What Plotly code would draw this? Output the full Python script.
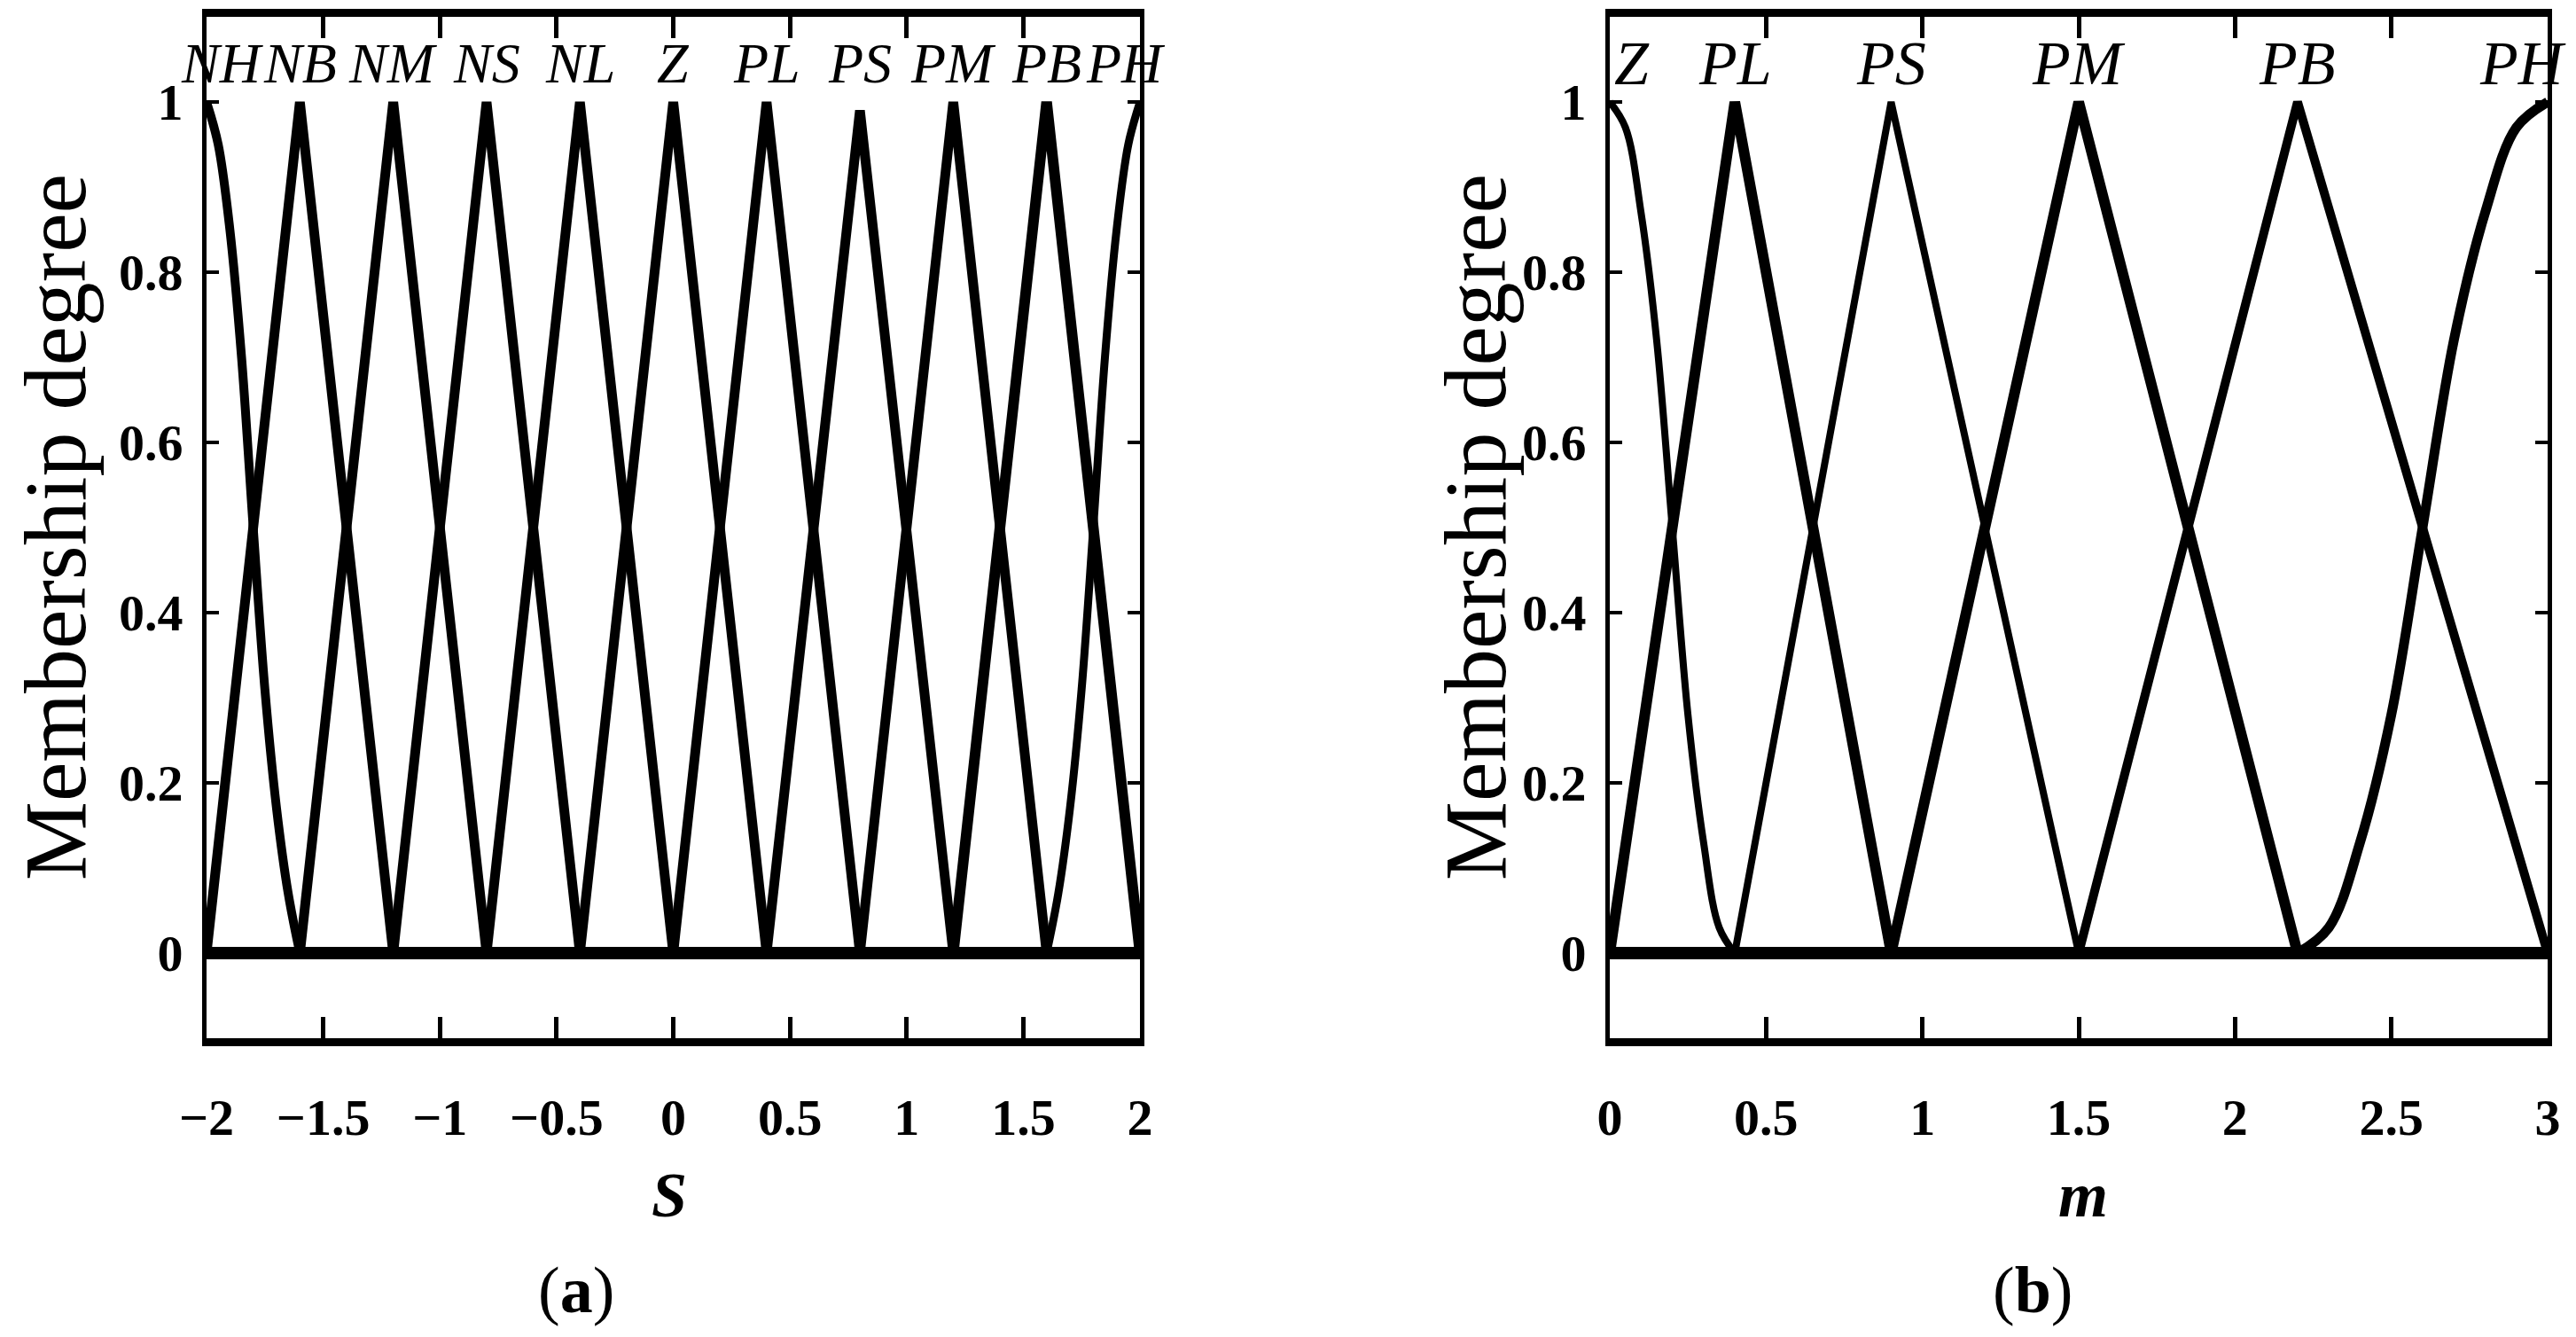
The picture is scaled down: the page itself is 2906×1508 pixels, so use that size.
import plotly.graph_objects as go

# ---- data: input S (panel a) ----
s_range = [-2, 2]
s_labels = ["NH", "NB", "NM", "NS", "NL", "Z", "PL", "PS", "PM", "PB", "PH"]
s_label_x = [-1.93, -1.6, -1.2, -0.8, -0.4, 0.0, 0.4, 0.8, 1.2, 1.6, 1.94]
# triangular sets NB..PB: left foot, peak, right foot, peak height
s_tri_a = [-2.0, -1.6, -1.2, -0.8, -0.4, 0.0, 0.4, 0.8, 1.2]
s_tri_b = [-1.6, -1.2, -0.8, -0.4, 0.0, 0.4, 0.8, 1.2, 1.6]
s_tri_c = [-1.2, -0.8, -0.4, 0.0, 0.4, 0.8, 1.2, 1.6, 2.0]
s_tri_h = [1, 1, 1, 1, 1, 1, 0.99, 1, 1]
# curved end sets
nh_x = [-2.0, -1.95, -1.9, -1.85, -1.8, -1.75, -1.7, -1.65, -1.6]
nh_y = [1.0, 0.95, 0.85, 0.7, 0.5, 0.31, 0.17, 0.07, 0.0]
ph_x = [1.6, 1.65, 1.7, 1.75, 1.8, 1.85, 1.9, 1.95, 2.0]
ph_y = [0.0, 0.07, 0.17, 0.31, 0.5, 0.7, 0.85, 0.95, 1.0]

# ---- data: input m (panel b) ----
m_range = [0, 3]
m_labels = ["Z", "PL", "PS", "PM", "PB", "PH"]
m_label_x = [0.07, 0.4, 0.9, 1.5, 2.2, 2.92]
m_tri_a = [0.0, 0.4, 0.9, 1.5]
m_tri_b = [0.4, 0.9, 1.5, 2.2]
m_tri_c = [0.9, 1.5, 2.2, 3.0]
m_tri_h = [1, 1, 1, 1]
z_x = [0.0, 0.05, 0.1, 0.15, 0.2, 0.25, 0.3, 0.35, 0.4]
z_y = [1.0, 0.97, 0.87, 0.72, 0.5, 0.28, 0.13, 0.03, 0.0]
mph_x = [2.2, 2.3, 2.4, 2.5, 2.6, 2.7, 2.8, 2.9, 3.0]
mph_y = [0.0, 0.03, 0.13, 0.28, 0.5, 0.72, 0.87, 0.97, 1.0]

y_ticks = [0, 0.2, 0.4, 0.6, 0.8, 1]

# line widths (style)
s_tri_w = [11, 11, 11, 11, 11, 11, 11, 11, 12]
m_tri_w = [12, 8, 12, 10]

W, H, OFF = 2890, 1490, 8


def fx(px):
    return (px - OFF) / W


def fy(py):
    return 1 - (py - OFF) / H


fig = go.Figure()


def add_line(x, y, xa, width, shape="linear"):
    fig.add_trace(go.Scatter(x=x, y=y, mode="lines", xaxis=xa, yaxis="y" if xa == "x" else "y2",
                             line=dict(color="black", width=width, shape=shape),
                             showlegend=False, hoverinfo="skip"))


# panel a
add_line(nh_x, nh_y, "x", 10, "spline")
add_line([nh_x[-1], s_range[1]], [0, 0], "x", 10)
for a, b, c, h, w in zip(s_tri_a, s_tri_b, s_tri_c, s_tri_h, s_tri_w):
    add_line([s_range[0], a, b, c, s_range[1]], [0, 0, h, 0, 0], "x", w)
add_line(ph_x, ph_y, "x", 9, "spline")

# panel b
add_line(z_x, z_y, "x2", 8, "spline")
add_line([z_x[-1], m_range[1]], [0, 0], "x2", 8)
for a, b, c, h, w in zip(m_tri_a, m_tri_b, m_tri_c, m_tri_h, m_tri_w):
    add_line([m_range[0], a, b, c, m_range[1]], [0, 0, h, 0, 0], "x2", w)
add_line(mph_x, mph_y, "x2", 11, "spline")

tick_font = dict(family="Liberation Serif", size=58, color="black", weight="bold")

xcommon = dict(showline=True, mirror="ticks", ticks="inside", linecolor="black", linewidth=9,
               tickcolor="black", ticklen=24, tickwidth=5, showgrid=False, zeroline=False,
               tickfont=tick_font, ticklabelstandoff=30, dtick=0.5, automargin=False)
ycommon = dict(showline=True, mirror="ticks", ticks="inside", linecolor="black", linewidth=5,
               tickcolor="black", ticklen=14, tickwidth=4, showgrid=False,
               zeroline=True, zerolinecolor="black", zerolinewidth=14,
               range=[-0.1, 1.1], tickvals=y_ticks, tickfont=tick_font, ticklabelstandoff=10,
               automargin=False)

fig.update_layout(
    width=W, height=H, margin=dict(l=0, r=0, t=0, b=0),
    paper_bgcolor="white", plot_bgcolor="white",
    xaxis=dict(xcommon, range=s_range, domain=[fx(233), fx(1286)], anchor="y"),
    yaxis=dict(ycommon, domain=[fy(1171), fy(19)], anchor="x"),
    xaxis2=dict(xcommon, range=m_range, domain=[fx(1816), fx(2874)], anchor="y2"),
    yaxis2=dict(ycommon, domain=[fy(1171), fy(19)], anchor="x2"),
)

for name, x in zip(s_labels, s_label_x):
    fig.add_annotation(x=x, y=1.045, xref="x", yref="y", text=name, showarrow=False,
                       font=dict(family="Liberation Serif", size=64, color="black", style="italic"),
                       xanchor="center", yanchor="middle")
for name, x in zip(m_labels, m_label_x):
    fig.add_annotation(x=x, y=1.045, xref="x2", yref="y2", text=name, showarrow=False,
                       font=dict(family="Liberation Serif", size=70, color="black", style="italic"),
                       xanchor="center", yanchor="middle")

title_font = dict(family="Liberation Serif", size=100, color="black")
for px in [62, 1664]:
    fig.add_annotation(x=fx(px), y=fy(595), xref="paper", yref="paper", text="Membership degree",
                       textangle=-90, showarrow=False, font=title_font,
                       xanchor="center", yanchor="middle")

axis_font = dict(family="Liberation Serif", size=72, color="black", style="italic", weight="bold")
for txt, px in [("S", 755), ("m", 2350)]:
    fig.add_annotation(x=fx(px), y=fy(1348), xref="paper", yref="paper", text=txt,
                       showarrow=False, font=axis_font, xanchor="center", yanchor="middle")

cap_font = dict(family="Liberation Serif", size=74, color="black")
for txt, px in [("(<b>a</b>)", 650), ("(<b>b</b>)", 2293)]:
    fig.add_annotation(x=fx(px), y=0, xref="paper", yref="paper", text=txt,
                       showarrow=False, font=cap_font, xanchor="center", yanchor="bottom")

fig.write_html("out.html")
